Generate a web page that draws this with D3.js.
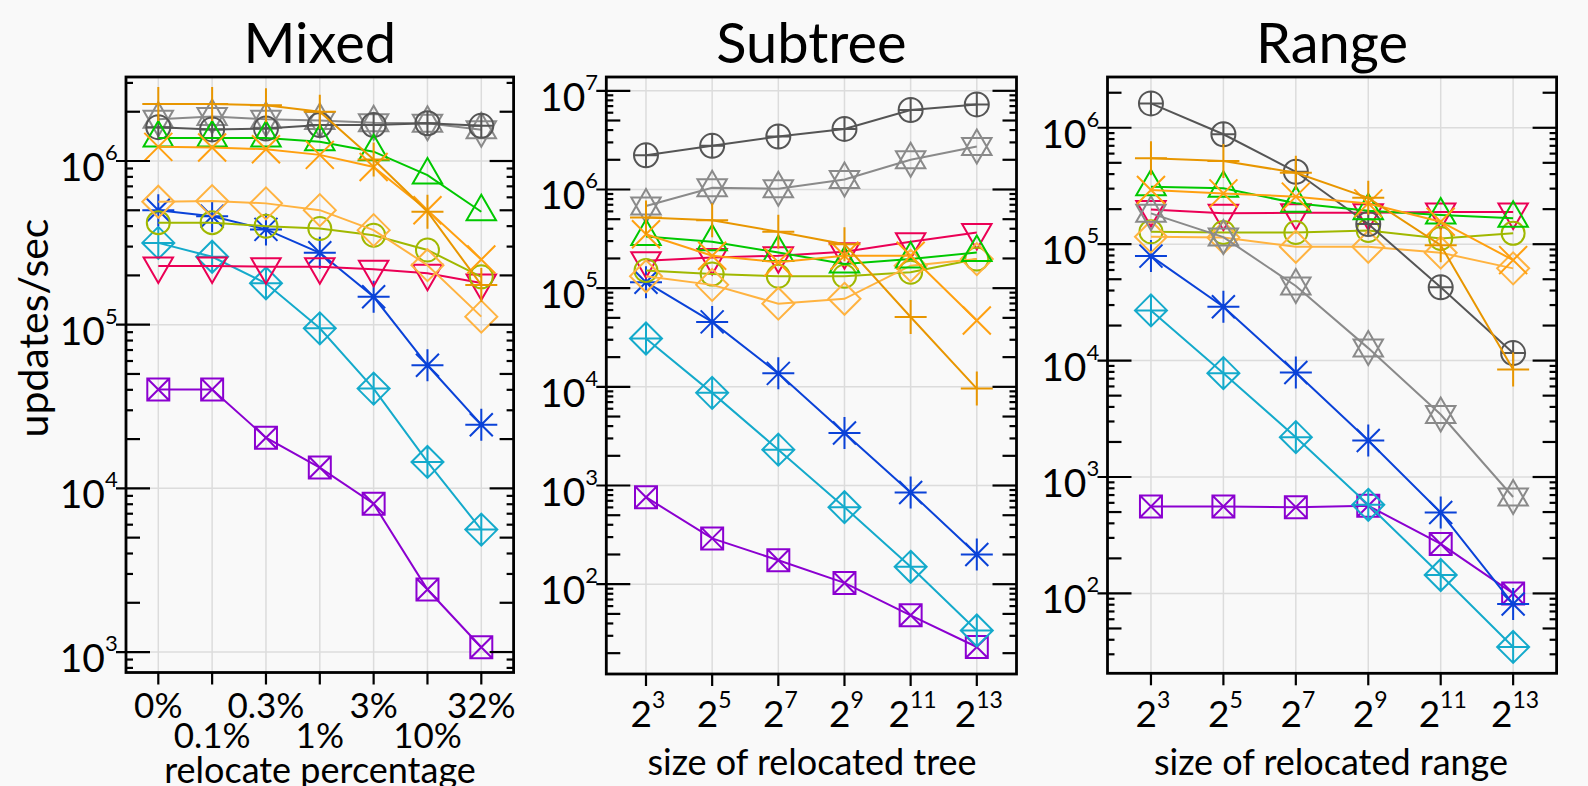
<!DOCTYPE html>
<html>
<head>
<meta charset="utf-8">
<script src="https://cdn.jsdelivr.net/npm/d3@7"></script>
<style>
body { margin: 0; background: #f9f9f9; }
text { font-family: Lato, "Noto Sans", sans-serif; fill: #000; }
</style>
</head>
<body>
<svg id="chart" width="1588" height="786"></svg>
<script>
/* globals d3 */

// category labels
var mixedCats = ["0%", "0.1%", "0.3%", "1%", "3%", "10%", "32%"];
var treeExps = ["3", "5", "7", "9", "11", "13"];
var rangeExps = ["3", "5", "7", "9", "11", "13"];

// Mixed: updates/sec per relocate percentage
var mixedPurple  = [4.02e4, 4.02e4, 2.04e4, 1.34e4, 8.05e3, 2.41e3, 1.07e3];
var mixedCyan    = [3.16e5, 2.6e5, 1.79e5, 9.5e4, 4.07e4, 1.45e4, 5.6e3];
var mixedBlue    = [5.0e5, 4.6e5, 3.82e5, 2.75e5, 1.48e5, 5.65e4, 2.45e4];
var mixedRed     = [2.28e5, 2.28e5, 2.26e5, 2.26e5, 2.18e5, 2.06e5, 1.8e5];
var mixedOlive   = [4.2e5, 4.2e5, 4.0e5, 3.87e5, 3.52e5, 2.86e5, 1.96e5];
var mixedDiamond = [5.64e5, 5.69e5, 5.51e5, 5.01e5, 3.78e5, 2.31e5, 1.12e5];
var mixedHex     = [1.80e6, 1.87e6, 1.8e6, 1.77e6, 1.71e6, 1.70e6, 1.55e6];
var mixedCircle  = [1.61e6, 1.56e6, 1.58e6, 1.66e6, 1.66e6, 1.70e6, 1.64e6];
var mixedGreen   = [1.38e6, 1.38e6, 1.38e6, 1.31e6, 1.14e6, 8.2e5, 4.9e5];
var mixedCross   = [1.22e6, 1.21e6, 1.18e6, 1.09e6, 9.2e5, 5.0e5, 2.5e5];
var mixedPlus    = [2.23e6, 2.23e6, 2.19e6, 2.0e6, 1.02e6, 4.9e5, 1.75e5];

// Subtree: updates/sec per size of relocated tree
var treePurple  = [761, 291, 175, 103, 48.4, 23.1];
var treeCyan    = [3.09e4, 8.69e3, 2.31e3, 603, 150, 34];
var treeBlue    = [1.15e5, 4.55e4, 1.37e4, 3.4e3, 849, 200];
var treeRed     = [1.9e5, 2.05e5, 2.13e5, 2.34e5, 2.95e5, 3.66e5];
var treeOlive   = [1.51e5, 1.39e5, 1.32e5, 1.32e5, 1.45e5, 1.97e5];
var treeDiamond = [1.32e5, 1.08e5, 6.96e4, 7.8e4, 1.69e5, 1.97e5];
var treeHex     = [6.8e5, 1.04e6, 1.02e6, 1.26e6, 2.0e6, 2.73e6];
var treeCircle  = [2.22e6, 2.77e6, 3.44e6, 4.11e6, 6.38e6, 7.28e6];
var treeGreen   = [3.34e5, 2.95e5, 2.3e5, 1.76e5, 1.97e5, 2.3e5];
var treeCross   = [3.52e5, 2.13e5, 1.83e5, 2.13e5, 2.13e5, 4.7e4];
var treePlus    = [5.19e5, 4.88e5, 3.72e5, 2.79e5, 5.1e4, 9.6e3];

// Range: updates/sec per size of relocated range
var rangePurple  = [558, 558, 551, 566, 266, 100];
var rangeCyan    = [2.7e4, 7.8e3, 2.2e3, 577, 144, 34.7];
var rangeBlue    = [7.9e4, 2.9e4, 7.9e3, 2.06e3, 495, 81];
var rangeRed     = [1.99e5, 1.84e5, 1.86e5, 1.86e5, 1.89e5, 1.89e5];
var rangeOlive   = [1.28e5, 1.26e5, 1.26e5, 1.31e5, 1.12e5, 1.24e5];
var rangeDiamond = [1.16e5, 1.14e5, 9.5e4, 9.5e4, 8.45e4, 6.2e4];
var rangeHex     = [1.84e5, 1.15e5, 4.38e4, 1.28e4, 3.44e3, 673];
var rangeCircle  = [1.62e6, 8.8e5, 4.19e5, 1.49e5, 4.26e4, 1.16e4];
var rangeGreen   = [3.12e5, 3.02e5, 2.25e5, 1.94e5, 1.78e5, 1.67e5];
var rangeCross   = [2.92e5, 2.73e5, 2.56e5, 2.24e5, 1.56e5, 7.3e4];
var rangePlus    = [5.46e5, 5.18e5, 4.11e5, 2.5e5, 9.8e4, 8.4e3];

// series styles, in drawing order
var styles = [
    {color: "#8b00d0", marker: "squareX"},
    {color: "#14aacb", marker: "diamondPlus"},
    {color: "#0a42d8", marker: "asterisk"},
    {color: "#eb0055", marker: "triDown"},
    {color: "#a0b800", marker: "circle"},
    {color: "#ffb340", marker: "diamond"},
    {color: "#8a8a8a", marker: "hexagram"},
    {color: "#555555", marker: "circlePlus"},
    {color: "#00c800", marker: "triUp"},
    {color: "#ffa010", marker: "cross"},
    {color: "#e89600", marker: "plus"}
];

var panels = [
    {title: "Mixed", xlabel: "relocate percentage", left: 126, right: 513.6, top: 77, bottom: 672.5,
     yDomain: [750, 3.26e6], labels: mixedCats, pct: true, labelX: 320,
     values: [mixedPurple, mixedCyan, mixedBlue, mixedRed, mixedOlive, mixedDiamond,
              mixedHex, mixedCircle, mixedGreen, mixedCross, mixedPlus]},
    {title: "Subtree", xlabel: "size of relocated tree", left: 606.3, right: 1016.5, top: 77, bottom: 674,
     yDomain: [12.3, 1.38e7], labels: treeExps, pct: false, labelX: 812,
     values: [treePurple, treeCyan, treeBlue, treeRed, treeOlive, treeDiamond,
              treeHex, treeCircle, treeGreen, treeCross, treePlus]},
    {title: "Range", xlabel: "size of relocated range", left: 1107.5, right: 1556.6, top: 77, bottom: 673.3,
     yDomain: [20.6, 2.73e6], labels: rangeExps, pct: false, labelX: 1331,
     values: [rangePurple, rangeCyan, rangeBlue, rangeRed, rangeOlive, rangeDiamond,
              rangeHex, rangeCircle, rangeGreen, rangeCross, rangePlus]}
];

var svg = d3.select("#chart");
svg.append("rect").attr("width", 1588).attr("height", 786).attr("fill", "#f9f9f9");

//Triangle points around the centroid, pointing up (dir=-1) or down (dir=1)
function tri(R, dir) {
    var h = R * Math.sqrt(3) / 2;
    return "M0," + (dir * R) + "L" + h + "," + (-dir * R / 2) + "L" + (-h) + "," + (-dir * R / 2) + "Z";
}

//Marker outlines as path strings around (0,0)
function markerPath(kind) {
    switch (kind) {
        case "plus": return "M-16,0H16M0,-17V17";
        case "cross": return "M-14,-14L14,14M-14,14L14,-14";
        case "triUp": return tri(17, -1);
        case "triDown": return tri(17, 1);
        case "hexagram": return tri(17, -1) + tri(17, 1);
        case "circle": return "M-11.5,0A11.5,11.5 0 1,0 11.5,0A11.5,11.5 0 1,0 -11.5,0Z";
        case "circlePlus": return "M-12,0A12,12 0 1,0 12,0A12,12 0 1,0 -12,0ZM-12,0H12M0,-12V12";
        case "diamond": return "M0,-16L16,0L0,16L-16,0Z";
        case "diamondPlus": return "M0,-16L16,0L0,16L-16,0ZM-16,0H16M0,-16V16";
        case "asterisk": return "M-16,0H16M0,-16V16M-11.5,-11.5L11.5,11.5M-11.5,11.5L11.5,-11.5";
        case "squareX": return "M-11,-11H11V11H-11ZM-11,-11L11,11M-11,11L11,-11";
    }
    return "";
}

panels.forEach(function(p) {
    var n = p.labels.length;
    var x = d3.scaleLinear().domain([-0.6, n - 0.4]).range([p.left, p.right]);
    var y = d3.scaleLog().domain(p.yDomain).range([p.bottom, p.top]);
    var g = svg.append("g");
    var idx = d3.range(n);
    var allTicks = y.ticks();
    var decades = allTicks.filter(function(t) { return Math.abs(Math.log10(t) - Math.round(Math.log10(t))) < 1e-9; });

    // grid
    g.selectAll(".vgrid").data(idx).enter().append("line")
        .attr("x1", function(d) { return x(d); }).attr("x2", function(d) { return x(d); })
        .attr("y1", p.top).attr("y2", p.bottom)
        .attr("stroke", "#dcdcdc").attr("stroke-width", 1.5);
    g.selectAll(".hgrid").data(decades).enter().append("line")
        .attr("x1", p.left).attr("x2", p.right)
        .attr("y1", function(d) { return y(d); }).attr("y2", function(d) { return y(d); })
        .attr("stroke", "#dcdcdc").attr("stroke-width", 1.5);

    // series
    var line = d3.line().x(function(d, i) { return x(i); }).y(function(d) { return y(d); });
    styles.forEach(function(s, k) {
        var vals = p.values[k];
        g.append("path").attr("d", line(vals))
            .attr("fill", "none").attr("stroke", s.color).attr("stroke-width", 2);
        g.selectAll(null).data(vals).enter().append("path")
            .attr("d", markerPath(s.marker))
            .attr("transform", function(d, i) { return "translate(" + x(i) + "," + y(d) + ")"; })
            .attr("fill", "none").attr("stroke", s.color).attr("stroke-width", 2);
    });

    // frame
    g.append("rect").attr("x", p.left).attr("y", p.top)
        .attr("width", p.right - p.left).attr("height", p.bottom - p.top)
        .attr("fill", "none").attr("stroke", "#000").attr("stroke-width", 2.8);

    // y ticks, left (crossing) and right (inward)
    function tickLen(t) {
        var m = Math.round(t / Math.pow(10, Math.floor(Math.log10(t) + 1e-9)));
        if (m === 1) return 24;
        if (m === 2 || m === 5) return 14;
        return 7;
    }
    g.selectAll(".lt").data(allTicks).enter().append("line")
        .attr("x1", function(d) { return tickLen(d) === 24 ? p.left - 10 : p.left; })
        .attr("x2", function(d) { return p.left + tickLen(d); })
        .attr("y1", function(d) { return y(d); }).attr("y2", function(d) { return y(d); })
        .attr("stroke", "#000").attr("stroke-width", 2.2);
    g.selectAll(".rt").data(allTicks).enter().append("line")
        .attr("x1", p.right).attr("x2", function(d) { return p.right - tickLen(d); })
        .attr("y1", function(d) { return y(d); }).attr("y2", function(d) { return y(d); })
        .attr("stroke", "#000").attr("stroke-width", 2.2);

    // y tick labels 10^k
    decades.forEach(function(t) {
        var k = Math.round(Math.log10(t));
        g.append("text").attr("x", p.left - 21).attr("y", y(t) + 20)
            .attr("text-anchor", "end").attr("font-size", 39).text("10");
        g.append("text").attr("x", p.left - 21).attr("y", y(t) - 1)
            .attr("text-anchor", "start").attr("font-size", 22).text(k);
    });

    // x ticks
    g.selectAll(".xt").data(idx).enter().append("line")
        .attr("x1", function(d) { return x(d); }).attr("x2", function(d) { return x(d); })
        .attr("y1", p.bottom).attr("y2", p.bottom + 12)
        .attr("stroke", "#000").attr("stroke-width", 2.2);

    // x tick labels
    idx.forEach(function(i) {
        if (p.pct) {
            g.append("text").attr("x", x(i)).attr("y", i % 2 === 0 ? 718 : 748)
                .attr("text-anchor", "middle").attr("font-size", 35).text(p.labels[i]);
        } else {
            var t = g.append("text").attr("x", x(i) + 2).attr("y", 727)
                .attr("text-anchor", "middle").attr("font-size", 37);
            t.append("tspan").text("2");
            t.append("tspan").attr("font-size", 23).attr("dy", -19).text(p.labels[i]);
        }
    });

    // titles
    g.append("text").attr("x", (p.left + p.right) / 2).attr("y", 63)
        .attr("text-anchor", "middle").attr("font-size", 56).text(p.title);
    g.append("text").attr("x", p.labelX).attr("y", p.pct ? 783 : 775)
        .attr("text-anchor", "middle").attr("font-size", 36).text(p.xlabel);
});

svg.append("text").attr("transform", "translate(48,328) rotate(-90)")
    .attr("text-anchor", "middle").attr("font-size", 41).text("updates/sec");
</script>
</body>
</html>
